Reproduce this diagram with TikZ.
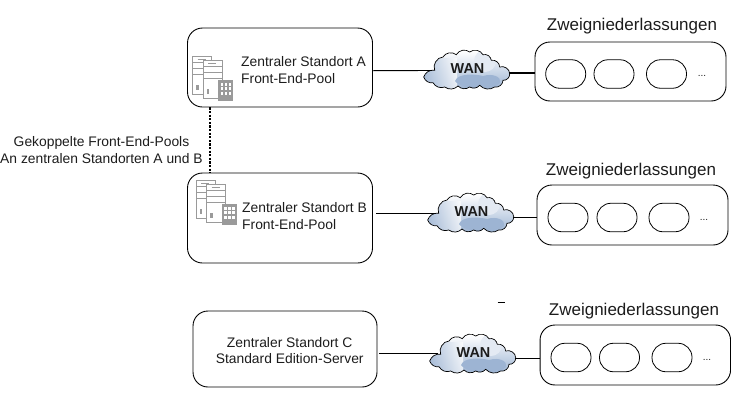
\documentclass[tikz,border=0pt]{standalone}
\usepackage{fontspec}
\setmainfont{Liberation Sans}
\usetikzlibrary{calc}
\definecolor{cloudblue}{HTML}{9DB4D3}
\definecolor{cloudlight}{HTML}{E4EAF3}
\definecolor{icongray}{HTML}{9A9A9A}
\definecolor{inktext}{HTML}{1C1C1C}
\tikzset{
  x=1pt,y=-1pt,
  bigbox/.style={draw=black,line width=0.9pt,rounded corners=15pt,inner sep=0pt},
  pill/.style={draw=black,line width=0.8pt,rounded corners=14pt,inner sep=0pt,minimum height=28.5pt,minimum width=40pt},
  hubtext/.style={text=inktext,font=\fontsize{13.85}{16.5}\selectfont,inner sep=0pt},
  titletext/.style={text=inktext,font=\fontsize{17}{20}\selectfont,inner sep=0pt},
  frame/.style={inner sep=0pt,minimum width=87pt,minimum height=35pt},
  wantext/.style={text=inktext,font=\fontsize{14.4}{16}\selectfont\bfseries,inner sep=0pt},
  wire/.style={draw=black,line width=0.9pt},
  wirethick/.style={draw=black,line width=1.3pt},
}
\newcommand{\cloudpath}{(0.7,25) to[bend left=40] (11.7,18.3) to[bend left=55] (20,5) to[bend left=50] (33.3,2.7) to[bend left=50] (46.7,0) to[bend left=50] (60,2.7) to[bend left=50] (68.3,8.3) to[bend left=50] (76.7,15) to[bend left=55] (86.7,21.7) to[bend left=50] (80,28.3) to[bend left=50] (71.7,35) to[bend left=40] (56.7,33.3) to[bend left=40] (46.7,35) to[bend left=40] (35,34) to[bend left=40] (21.7,35) to[bend left=40] (10,30.7) to[bend left=40] cycle}
\newcommand{\wancloud}[3]{%
  \begin{scope}[shift={(#2,#3)}]
    \begin{scope}
      \clip \cloudpath;
      \shade[top color=white,bottom color=cloudblue] (-1,-1) rectangle (89,37);
      \shade[left color=cloudblue,right color=white,opacity=0.75] (-1,6) rectangle (34,37);
      \fill[cloudlight] (62,9) circle[radius=11];
      \fill[cloudblue] (32,29) .. controls (35,21) and (52,22) .. (60,24) .. controls (70,21) and (79,25) .. (77,31) .. controls (70,39) and (40,39) .. (32,29) -- cycle;
    \end{scope}
    \draw[black,line width=0.7pt] \cloudpath;
    \node[frame] (#1) at (43.5,17.5) {};
    \node[wantext] (#1text) at (44.5,17) {WAN};
  \end{scope}}
\newcommand{\servericon}[2]{%
  \begin{scope}[shift={(#1,#2)},draw=icongray,line width=0.7pt]
    \foreach \dx/\dy in {0/0,10.7/4}{
      \begin{scope}[shift={(\dx,\dy)}]
        \fill[white] (0,0) rectangle (19,37.5);
        \draw (0,0) rectangle (19,37.5);
        \draw (0,6) -- (19,6) (0,12) -- (19,12) (0,18) -- (19,18);
        \draw (5,3) -- (13,3);
        \fill[icongray] (3.5,28) rectangle (6,33.5);
      \end{scope}}
    \fill[icongray] (25.6,23.3) rectangle (40.6,44);
    \foreach \cx in {28,32,36}\foreach \cy in {26,30.5,35}{
      \fill[white] (\cx,\cy) rectangle ++(2.6,2.8);}
  \end{scope}}
\begin{document}
\begin{tikzpicture}
\useasboundingbox (0,0) rectangle (731,402);
% hubs
\node[bigbox,minimum width=185pt,minimum height=79pt] (hubA) at (280,67.5) {};
\node[bigbox,minimum width=185pt,minimum height=90pt] (hubB) at (280,218) {};
\node[bigbox,minimum width=184pt,minimum height=76pt] (hubC) at (285,349) {};
\servericon{192.7}{56.7}
\servericon{196}{180.7}
\node[hubtext,anchor=west,align=left] (textA) at (241,70) {Zentraler Standort A\\Front-End-Pool};
\node[hubtext,anchor=west,align=left] (textB) at (242,216) {Zentraler Standort B\\Front-End-Pool};
\node[hubtext,align=center] (textC) at (289.7,350.5) {Zentraler Standort C\\Standard Edition-Server};
\node[hubtext,align=center] (pairtext) at (101.5,150) {Gekoppelte Front-End-Pools\\An zentralen Standorten A und B};
% branches
\node[bigbox,minimum width=191pt,minimum height=59pt] (branchA) at (630.5,71.5) {};
\node[bigbox,minimum width=191pt,minimum height=60pt] (branchB) at (632.5,215) {};
\node[bigbox,minimum width=190.5pt,minimum height=60pt] (branchC) at (635.3,355) {};
\node[titletext] (titleA) at (632,26.5) {Zweigniederlassungen};
\node[titletext] (titleB) at (631,171) {Zweigniederlassungen};
\node[titletext] (titleC) at (634,311) {Zweigniederlassungen};
% pills
\node[pill] (a1) at (565.7,74) {};
\node[pill] (a2) at (614,74) {};
\node[pill] (a3) at (666.5,74) {};
\node[pill] (b1) at (568,217.5) {};
\node[pill] (b2) at (617,217.5) {};
\node[pill] (b3) at (669,217.5) {};
\node[pill] (c1) at (571,357.5) {};
\node[pill] (c2) at (619.5,357.5) {};
\node[pill] (c3) at (672,357.5) {};
\node[inner sep=0pt,text=inktext,font=\fontsize{10}{10}\selectfont] (a4) at (702,76) {...};
\node[inner sep=0pt,text=inktext,font=\fontsize{10}{10}\selectfont] (b4) at (704,220) {...};
\node[inner sep=0pt,text=inktext,font=\fontsize{10}{10}\selectfont] (c4) at (707,360) {...};
% clouds
\wancloud{wanA}{423}{52}
\wancloud{wanB}{427}{195}
\wancloud{wanC}{429}{336}
% connectors
\draw[wire] ($(hubA.east)+(0,3.2)$) -- ($(wanA.west)+(9,1)$);
\draw[wirethick] ($(wanA.east)+(-1,3.5)$) -- ($(branchA.west)+(0,1.5)$);
\draw[wire] ($(hubB.east)+(3.5,-5)$) -- ($(wanB.west)+(9,0.5)$);
\draw[wire] ($(wanB.east)+(-1,4.5)$) -- ($(branchB.west)+(0,2)$);
\draw[wire] ($(hubC.east)+(2,4)$) -- ($(wanC.west)+(9,-0.5)$);
\draw[wire] ($(wanC.east)+(-1,4.5)$) -- ($(branchC.west)+(0,3)$);
\draw[black,line width=1.4pt,dash pattern=on 2.2pt off 1.4pt] ($(hubA.south west)+(23,0)$) -- ($(hubB.north west)+(23,0)$);
\coordinate (tickL) at (497.5,302);
\coordinate (tickR) at (504.5,302);
\draw[black,line width=0.8pt] (tickL) -- (tickR);
\end{tikzpicture}
\end{document}
